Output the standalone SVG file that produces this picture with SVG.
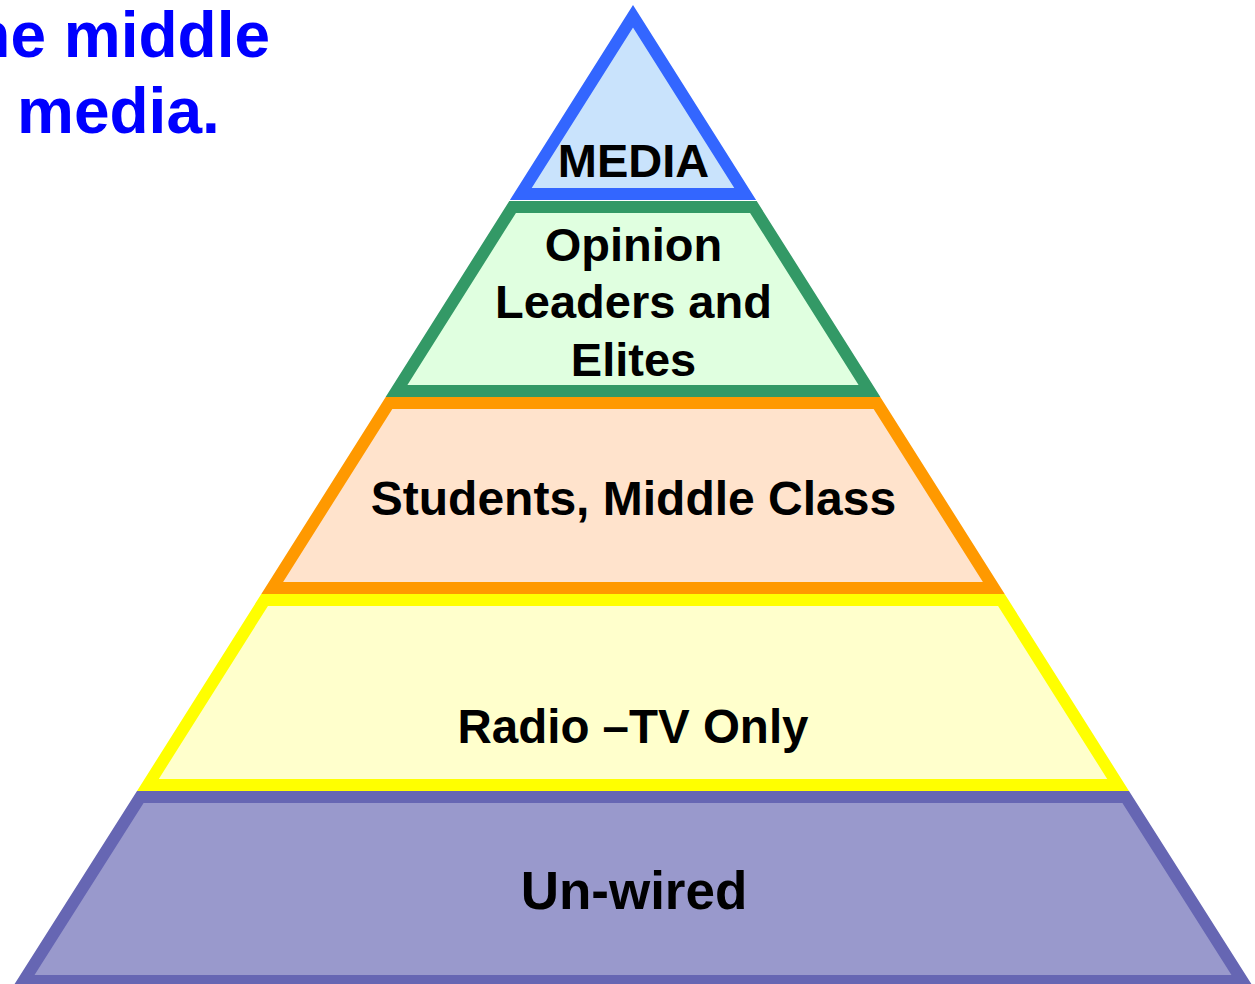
<svg xmlns="http://www.w3.org/2000/svg" width="1255" height="984" viewBox="0 0 1255 984">
<style>
.layer{stroke-width:12;stroke-linejoin:miter;stroke-miterlimit:10}
.lbl{font-family:"Liberation Sans",Arial,sans-serif;font-weight:bold;fill:#000;text-anchor:middle}
.title{font-family:"Liberation Sans",Arial,sans-serif;font-weight:bold;fill:#0000FF;font-size:64px}
</style>
<rect width="1255" height="984" fill="#FFFFFF"/>
<g id="title">
<text class="title" x="270" y="57" text-anchor="end">he middle</text>
<text class="title" x="17" y="133">media.</text>
</g>
<g id="unwired">
<polygon class="layer" points="140.3,797 1125.7,797 1242.4,981 23.6,981" fill="#9999CC" stroke="#6666B3"/>
<text class="lbl" x="634" y="909" font-size="53">Un-wired</text>
</g>
<g id="radio">
<polygon class="layer" points="264.6,600 1001.4,600 1118.1,785 147.9,785" fill="#FFFFCC" stroke="#FFFF00"/>
<text class="lbl" x="633" y="743" font-size="47.5">Radio –TV Only</text>
</g>
<g id="students">
<polygon class="layer" points="389,403 877,403 993.8,588 272.2,588" fill="#FFE3CC" stroke="#FF9900"/>
<text class="lbl" x="633.5" y="515" font-size="48">Students, Middle Class</text>
</g>
<g id="opinion">
<polygon class="layer" points="512.6,207 753.4,207 869.5,391 396.5,391" fill="#E0FFE0" stroke="#339966"/>
<text class="lbl" x="633.5" y="261" font-size="47">Opinion</text>
<text class="lbl" x="633.5" y="318" font-size="47">Leaders and</text>
<text class="lbl" x="633.5" y="376" font-size="47">Elites</text>
</g>
<g id="media">
<polygon class="layer" points="633,16.2 745.2,194 520.8,194" fill="#C9E3FC" stroke="#3366FF"/>
<text class="lbl" x="633.5" y="177" font-size="47">MEDIA</text>
</g>
<g id="connectors"></g>
</svg>
